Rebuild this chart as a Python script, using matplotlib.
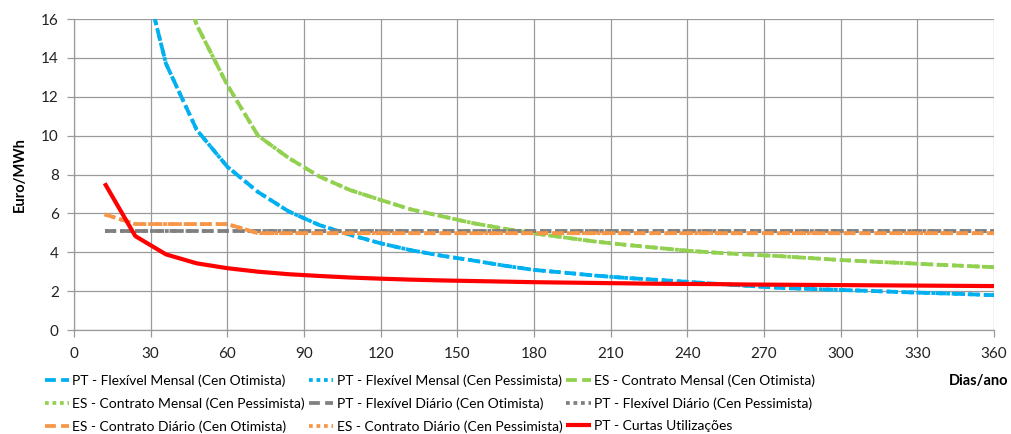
import matplotlib
matplotlib.use("Agg")
import matplotlib.pyplot as plt

plt.rcParams['font.family'] = ['Lato', 'DejaVu Sans']

# days per year (points every 12 days)
dias = [12, 24, 36, 48, 60, 72, 84, 96, 108, 120, 132, 144, 156, 168, 180,
        192, 204, 216, 228, 240, 252, 264, 276, 288, 300, 312, 324, 336, 348, 360]

pt_flex_mensal = [41.0, 20.0, 13.7, 10.3, 8.4, 7.1, 6.1, 5.4, 4.9, 4.46,
                  4.1, 3.82, 3.58, 3.32, 3.09, 2.95, 2.8, 2.68, 2.58, 2.48,
                  2.37, 2.27, 2.17, 2.11, 2.06, 2.01, 1.95, 1.9, 1.85, 1.79]
es_contrato_mensal = [60.0, 30.0, 20.5, 15.7, 12.6, 10.0, 8.85, 7.9, 7.2, 6.69,
                      6.2, 5.85, 5.5, 5.22, 4.97, 4.76, 4.55, 4.38, 4.23, 4.08,
                      3.97, 3.88, 3.8, 3.7, 3.6, 3.52, 3.45, 3.37, 3.3, 3.23]
pt_flex_diario = [5.08] * 30
es_contrato_diario = [5.95, 5.45, 5.45, 5.45, 5.45] + [4.98] * 25
pt_curtas = [7.55, 4.83, 3.89, 3.43, 3.18, 3.0, 2.87, 2.78, 2.7, 2.64,
             2.59, 2.55, 2.52, 2.49, 2.46, 2.44, 2.42, 2.4, 2.38, 2.37,
             2.36, 2.34, 2.33, 2.32, 2.31, 2.3, 2.29, 2.28, 2.27, 2.26]

labels = [
    "PT - Flexível Mensal (Cen Otimista)",
    "PT - Flexível Mensal (Cen Pessimista)",
    "ES - Contrato Mensal (Cen Otimista)",
    "ES - Contrato Mensal (Cen Pessimista)",
    "PT - Flexível Diário (Cen Otimista)",
    "PT - Flexível Diário (Cen Pessimista)",
    "ES - Contrato Diário (Cen Otimista)",
    "ES - Contrato Diário (Cen Pessimista)",
    "PT - Curtas Utilizações",
]

blue = '#00B0F0'
green = '#92D050'
gray = '#808080'
orange = '#F79646'
red = '#FF0000'

dash = (0, (2.9, 1.4))
dot = (0, (1, 1))
lw = 2.7

fig = plt.figure(figsize=(10.12, 4.34), dpi=100)
ax = fig.add_axes([74 / 1012, 1 - 330 / 434, (994 - 74) / 1012, (330 - 19) / 434])

series = [
    (pt_flex_mensal, blue, dash),
    (pt_flex_mensal, blue, dot),
    (es_contrato_mensal, green, dash),
    (es_contrato_mensal, green, dot),
    (pt_flex_diario, gray, dash),
    (pt_flex_diario, gray, dot),
    (es_contrato_diario, orange, dash),
    (es_contrato_diario, orange, dot),
]
handles = []
for vals, col, ls in series:
    h, = ax.plot(dias, vals, color=col, lw=lw, linestyle=ls, dash_capstyle='butt')
    handles.append(h)
h, = ax.plot(dias, pt_curtas, color=red, lw=3.0, solid_capstyle='butt')
handles.append(h)

ax.set_xlim(0, 360)
ax.set_ylim(0, 16)
ax.set_xticks(range(0, 361, 30))
ax.set_yticks(range(0, 17, 2))
ax.grid(True, color='#9a9a9a', lw=0.9)
ax.set_axisbelow(True)
for s in ['top', 'right']:
    ax.spines[s].set_visible(False)
for s in ['left', 'bottom']:
    ax.spines[s].set_color('#9a9a9a')
    ax.spines[s].set_linewidth(0.9)
ax.tick_params(axis='both', length=5, width=0.9, color='#9a9a9a',
               labelsize=11, labelcolor='#222222')
ax.tick_params(axis='x', pad=7)
ax.tick_params(axis='y', pad=6)

fig.text(20 / 1012, 1 - 175 / 434, "Euro/MWh", rotation=90, fontsize=10.5,
         fontweight='bold', ha='center', va='center')
fig.text(979 / 1012, 1 - 381 / 434, "Dias/ano", fontsize=10.5,
         fontweight='bold', ha='center', va='center')

# excel fills legend row by row, matplotlib column by column
order = [0, 3, 6, 1, 4, 7, 2, 5, 8]
fig.legend([handles[i] for i in order], [labels[i] for i in order],
           ncol=3, loc='upper left', bbox_to_anchor=(45 / 1012, 1 - 374 / 434),
           frameon=False, fontsize=10, borderpad=0, borderaxespad=0,
           handlelength=1.75, handletextpad=0.22, labelspacing=0.76,
           columnspacing=0.3)

fig.savefig("out.png", dpi=100)
